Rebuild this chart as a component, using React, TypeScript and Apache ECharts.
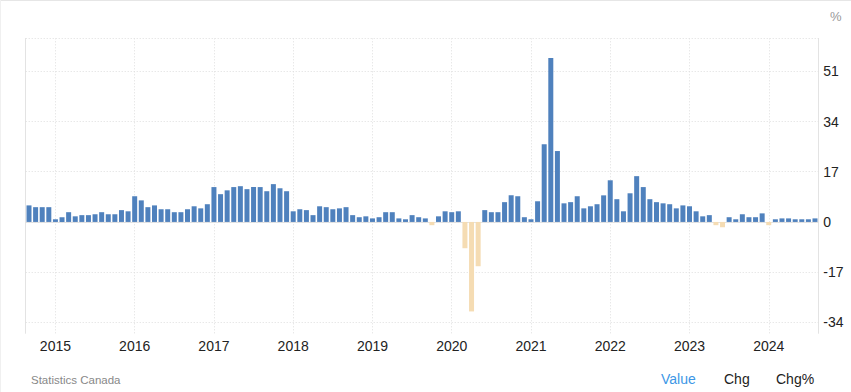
import React, { useEffect, useRef } from "react";
import * as echarts from "echarts";

const START_YEAR = 2014;
const START_MONTH = 9; // September

const values2014 = [5.6, 5.0, 5.0, 5.0];
const values2015 = [0.9, 1.6, 3.3, 1.9, 2.3, 2.3, 2.6, 3.3, 2.6, 2.6, 4.0, 3.6];
const values2016 = [8.7, 7.3, 5.0, 5.6, 4.3, 4.3, 3.3, 3.3, 4.3, 5.3, 4.6, 6.0];
const values2017 = [11.8, 9.4, 10.7, 11.8, 12.1, 11.1, 11.8, 11.8, 10.4, 12.8, 11.4, 10.4];
const values2018 = [3.6, 4.3, 4.0, 2.3, 5.3, 5.0, 4.3, 4.6, 5.0, 2.3, 1.6, 1.9];
const values2019 = [1.2, 1.6, 3.3, 3.3, 1.2, 0.9, 2.3, 1.6, 1.2, -1.1, 1.9, 3.6];
const values2020 = [3.3, 3.6, -8.9, -30.3, -15.0, 4.0, 3.3, 3.3, 6.7, 9.0, 8.7, 1.6];
const values2021 = [0.9, 7.0, 26.3, 55.5, 24.0, 6.3, 6.7, 8.7, 4.6, 5.3, 6.0, 9.0];
const values2022 = [14.1, 7.7, 3.6, 9.7, 15.5, 11.8, 7.7, 6.7, 6.3, 6.0, 4.6, 5.6];
const values2023 = [5.3, 3.6, 1.9, 2.3, -1.1, -1.8, 1.6, 0.9, 2.6, 1.6, 1.6, 2.9];
const values2024 = [-1.1, 0.9, 1.2, 1.2, 0.9, 0.9, 0.9, 1.2];

const yTicks = [-34, -17, 0, 17, 34, 51];
const Y_MIN = -37.7;
const Y_MAX = 62.1;

const allValues = [
  ...values2014, ...values2015, ...values2016, ...values2017, ...values2018,
  ...values2019, ...values2020, ...values2021, ...values2022, ...values2023, ...values2024,
];

const categories: string[] = allValues.map((_, i) => {
  const m0 = START_MONTH - 1 + i;
  const y = START_YEAR + Math.floor(m0 / 12);
  const m = (m0 % 12) + 1;
  return `${y}-${m < 10 ? "0" + m : m}`;
});

const janCategories = categories.filter((c) => c.endsWith("-01"));

const POS_COLOR = "#4f81bd";
const NEG_COLOR = "#f5dcb3";
const GRID_COLOR = "#dedede";
const AXIS_COLOR = "#e3e3e3";
const FONT = "'Liberation Sans', Arial, sans-serif";

export default function App() {
  const ref = useRef<HTMLDivElement>(null);
  useEffect(() => {
    if (!ref.current) return;
    const chart = echarts.init(ref.current, undefined, { renderer: "svg" });
    const gridMarks = [
      ...janCategories.map((c) => ({ xAxis: c })),
      ...[...yTicks, Y_MAX].map((v) => ({ yAxis: v })),
    ];
    chart.setOption({
      animation: false,
      textStyle: { fontFamily: FONT },
      grid: { left: 25.7, right: 32.7, top: 38.5, bottom: 58.7, containLabel: false },
      xAxis: {
        type: "category",
        data: categories,
        boundaryGap: true,
        axisLine: { show: true, lineStyle: { color: AXIS_COLOR, width: 1 } },
        axisTick: { show: false },
        splitLine: { show: false },
        axisLabel: {
          interval: (_i: number, v: string) => v.endsWith("-01"),
          formatter: (v: string) => v.slice(0, 4),
          color: "#222",
          fontSize: 14,
          margin: 6,
          fontFamily: FONT,
        },
      },
      yAxis: [
        {
          type: "value",
          position: "right",
          min: Y_MIN,
          max: Y_MAX,
          axisLine: { show: true, lineStyle: { color: AXIS_COLOR, width: 1 } },
          axisTick: { show: false },
          splitLine: { show: false },
          axisLabel: {
            customValues: yTicks,
            color: "#222",
            fontSize: 14,
            margin: 5,
            fontFamily: FONT,
          },
        },
        {
          type: "value",
          position: "left",
          min: Y_MIN,
          max: Y_MAX,
          axisLine: { show: true, lineStyle: { color: AXIS_COLOR, width: 1 } },
          axisTick: { show: false },
          axisLabel: { show: false },
          splitLine: { show: false },
        },
      ],
      series: [
        {
          type: "bar",
          data: allValues,
          barWidth: 5,
          itemStyle: {
            color: (p: any) => (p.value < 0 ? NEG_COLOR : POS_COLOR),
          },
          markLine: {
            silent: true,
            symbol: ["none", "none"],
            z: 1,
            label: { show: false },
            lineStyle: { color: GRID_COLOR, type: [1, 2], width: 1 },
            emphasis: { disabled: true },
            data: gridMarks,
          },
        },
      ],
      graphic: [
        { type: "rect", left: 0, top: 0, shape: { width: 851, height: 1 }, style: { fill: "#e6e6e6" }, silent: true },
        { type: "rect", left: 0, top: 0, shape: { width: 1, height: 392 }, style: { fill: "#f0f0f0" }, silent: true },
        {
          type: "text",
          left: 830,
          top: 10,
          style: { text: "%", fill: "#999", fontSize: 13, fontFamily: FONT },
        },
        {
          type: "text",
          left: 31,
          top: 374,
          style: { text: "Statistics Canada", fill: "#888", fontSize: 11.5, fontFamily: FONT },
        },
        {
          type: "text",
          left: 661,
          top: 372,
          style: { text: "Value", fill: "#3d97e6", fontSize: 14, fontFamily: FONT },
        },
        {
          type: "text",
          left: 724,
          top: 372,
          style: { text: "Chg", fill: "#222", fontSize: 14, fontFamily: FONT },
        },
        {
          type: "text",
          left: 776,
          top: 372,
          style: { text: "Chg%", fill: "#222", fontSize: 14, fontFamily: FONT },
        },
      ],
    });
    return () => chart.dispose();
  }, []);
  return (
    <div
      ref={ref}
      style={{ position: "fixed", left: 0, top: 0, width: 851, height: 392, background: "#fff" }}
    />
  );
}
